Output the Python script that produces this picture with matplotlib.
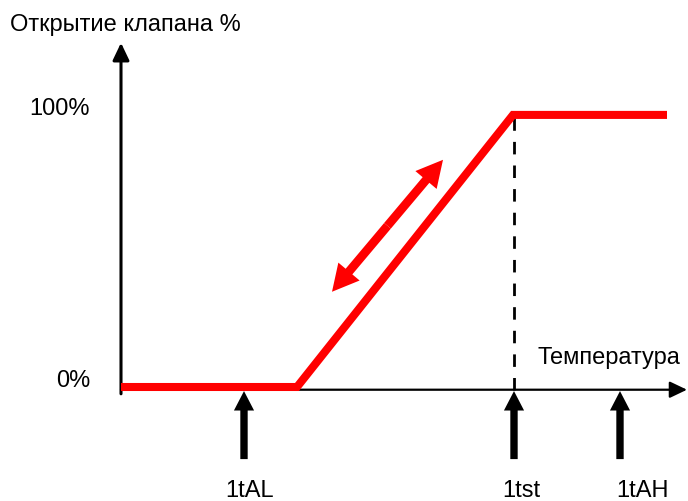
import matplotlib.pyplot as plt
from matplotlib.patches import ArrowStyle

# valve opening vs temperature (temperature in arbitrary units)
curve_t = [0.0, 17.6, 39.2, 54.6]
curve_pct = [0, 0, 100, 100]

# marked temperatures
marks = ["1tAL", "1tst", "1tAH"]
mark_t = [12.3, 39.3, 49.9]
mark_dx = [0.6, 0.7, 2.2]

# range of the set point drift
drift_t = [21.1, 32.2]
drift_pct = [35.0, 83.5]

y_ticks = [0, 100]
y_tick_labels = ["0%", "100%"]

plt.rcParams['font.family'] = ['Liberation Sans', 'DejaVu Sans']

fig = plt.figure(figsize=(6.88, 5.02), dpi=100)
ax = fig.add_axes([0, 0, 1, 1])
ax.set_xlim(-12.1, 56.7)
ax.set_ylim(-41.9, 142.6)
ax.axis("off")

black = "black"
red = "#ff0000"
fs = 17

axis_head = ArrowStyle("-|>", head_length=10.5, head_width=5.0)
# y axis
ax.annotate("", xy=(0, 126.5), xytext=(0, -2.5),
            arrowprops=dict(arrowstyle=axis_head, color=black, lw=2.2,
                            shrinkA=0, shrinkB=0, mutation_scale=1))
# x axis
ax.annotate("", xy=(56.6, -1.0), xytext=(0, -1.0),
            arrowprops=dict(arrowstyle=axis_head, color=black, lw=1.6,
                            shrinkA=0, shrinkB=0, mutation_scale=1))

# dashed line at set point
ax.plot([mark_t[1], mark_t[1]], [-1, curve_pct[2]], color=black, lw=2.0,
        ls=(0, (4.5, 4.0)), zorder=2)

# valve curve
ax.plot(curve_t, curve_pct, color=red, lw=5.8, solid_capstyle="butt",
        solid_joinstyle="miter", zorder=3)

# double arrow
mid_t = sum(drift_t) / 2
mid_p = sum(drift_pct) / 2
red_head = ArrowStyle("simple", head_length=19, head_width=20, tail_width=6.3)
for t, p in zip(drift_t, drift_pct):
    ax.annotate("", xy=(t, p), xytext=(mid_t, mid_p),
                arrowprops=dict(arrowstyle=red_head, fc=red, ec="none",
                                shrinkA=0, shrinkB=0, mutation_scale=1),
                zorder=4)

# markers under the axis
mark_head = ArrowStyle("simple", head_length=14, head_width=14.5, tail_width=5.3)
for name, t, dx in zip(marks, mark_t, mark_dx):
    ax.annotate("", xy=(t, -1.5), xytext=(t, -26.5),
                arrowprops=dict(arrowstyle=mark_head, fc=black, ec="none",
                                shrinkA=0, shrinkB=0, mutation_scale=1))
    ax.text(t + dx, -38.0, name, ha="center", va="center", fontsize=fs)

for v, lab in zip(y_ticks, y_tick_labels):
    ax.text(-3.1, v + 2.5, lab, ha="right", va="center", fontsize=fs)

ax.text(-11.1, 133.5, "Открытие клапана %", ha="left", va="center", fontsize=fs)
ax.text(41.7, 11.0, "Температура", ha="left", va="center", fontsize=fs)

fig.savefig("out.png", dpi=100)
